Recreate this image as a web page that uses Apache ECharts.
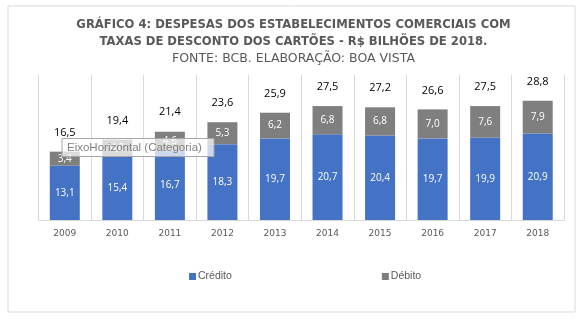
<!DOCTYPE html>
<html><head><meta charset="utf-8">
<script src="https://cdn.jsdelivr.net/npm/echarts@6/dist/echarts.min.js"></script>
<style>html,body{margin:0;padding:0;background:#fff}#c{width:587px;height:322px}</style>
</head><body><div id="c"></div>
<script>
var categories = ['2009','2010','2011','2012','2013','2014','2015','2016','2017','2018'];
var credito = [13.1,15.4,16.7,18.3,19.7,20.7,20.4,19.7,19.9,20.9];
var debito = [3.4,4.0,4.6,5.3,6.2,6.8,6.8,7.0,7.6,7.9];
var totais = [16.5,19.4,21.4,23.6,25.9,27.5,27.2,26.6,27.5,28.8];

function fmt(p){ return p.value.toFixed(1).replace('.', ','); }

var chart = echarts.init(document.getElementById('c'), null, {renderer:'canvas'});
chart.setOption({
  animation:false,
  title:{
    text:'GRÁFICO 4: DESPESAS DOS ESTABELECIMENTOS COMERCIAIS COM\nTAXAS DE DESCONTO DOS CARTÕES - R$ BILHÕES DE 2018.',
    subtext:'FONTE: BCB. ELABORAÇÃO: BOA VISTA',
    left:'center', top:11, itemGap:2,
    textStyle:{fontFamily:'DejaVu Sans', fontSize:11.6, fontWeight:'bold', color:'#595959', lineHeight:17},
    subtextStyle:{fontFamily:'DejaVu Sans', fontSize:12.5, color:'#595959'}
  },
  legend:{
    data:['Crédito','Débito'], left:184, top:266, itemGap:150, itemWidth:7, itemHeight:7,
    icon:'rect',
    textStyle:{fontFamily:'Liberation Sans', fontSize:10.5, color:'#595959', padding:[0,0,0,-3]}
  },
  grid:{left:38.5, right:23, top:75, bottom:102},
  xAxis:{
    type:'category', data:categories,
    axisLine:{lineStyle:{color:'#d9d9d9'}},
    axisTick:{show:false},
    splitLine:{show:true, lineStyle:{color:'#d9d9d9'}},
    axisLabel:{fontFamily:'DejaVu Sans', fontSize:9, color:'#595959', margin:9}
  },
  yAxis:{type:'value', min:0, max:35, show:false, splitLine:{show:false}},
  series:[
    {name:'Crédito', type:'bar', stack:'t', data:credito, barWidth:30,
     itemStyle:{color:'#4472C4'},
     label:{show:true, position:'inside', color:'#fff', fontFamily:'Open Sans', fontSize:10, formatter:fmt}},
    {name:'Débito', type:'bar', stack:'t', data:debito, barWidth:30,
     itemStyle:{color:'#7F7F7F'},
     label:{show:true, position:'inside', color:'#fff', fontFamily:'Open Sans', fontSize:10, formatter:fmt}},
    {name:'Total', type:'line', data:totais, symbol:'circle', symbolSize:1,
     itemStyle:{color:'rgba(0,0,0,0)'}, lineStyle:{opacity:0}, silent:true,
     label:{show:true, position:'top', distance:13, color:'#000', fontFamily:'Open Sans', fontSize:11, formatter:fmt},
     z:5}
  ],
  graphic:[
    {type:'rect', shape:{x:8, y:6, width:567, height:306}, style:{fill:'none', stroke:'#d9d9d9', lineWidth:1}, z:-1},
    {type:'rect', shape:{x:62, y:138.5, width:152, height:18}, style:{fill:'rgba(255,255,255,0.72)', stroke:'#a6a6a6', lineWidth:1}, z:100},
    {type:'text', x:67, y:147.5, style:{text:'EixoHorizontal (Categoria)', fill:'#808080', font:'11.5px "Liberation Sans"', textVerticalAlign:'middle'}, z:101}
  ]
});
</script></body></html>
